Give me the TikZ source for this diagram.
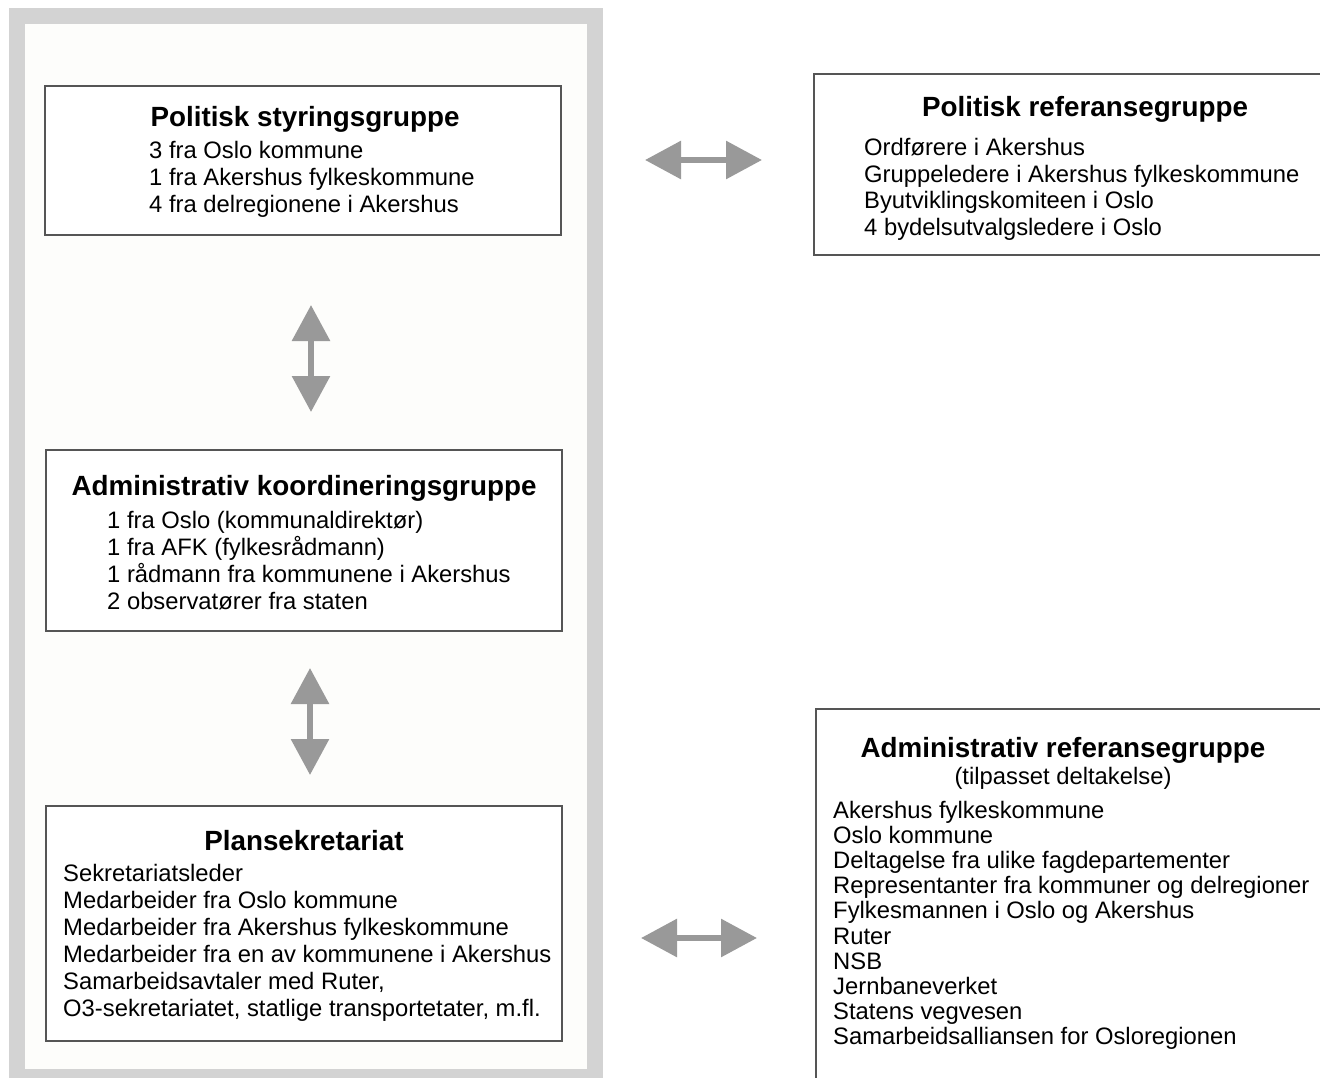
\documentclass[tikz,border=0pt]{standalone}
\usepackage{fontspec}
\setmainfont{Liberation Sans}
\usetikzlibrary{arrows.meta}
\definecolor{framegray}{HTML}{D3D3D3}
\definecolor{innerbg}{HTML}{FDFDFB}
\definecolor{boxgray}{HTML}{555555}
\definecolor{arrowgray}{HTML}{999999}
\begin{document}
\begin{tikzpicture}[x=1pt,y=-1pt,
  box/.style={draw=boxgray, line width=1.3pt, fill=white},
  ttl/.style={font=\fontsize{27.8}{30}\selectfont\bfseries, inner sep=0pt, anchor=base},
  sub/.style={font=\fontsize{23.8}{27}\selectfont, inner sep=0pt, anchor=base},
  txt/.style={font=\fontsize{23.8}{27}\selectfont, inner sep=0pt, anchor=base west},
  dbl/.style={draw=arrowgray, line width=6pt, {Triangle[length=36pt,width=37pt]}-{Triangle[length=36pt,width=37pt]}}]
\useasboundingbox (0,0) rectangle (1320,1078);
\clip (0,0) rectangle (1320,1078);
\fill[white] (0,0) rectangle (1320,1078);
% frame
\draw[framegray, line width=16pt, fill=innerbg] (17,16) rectangle (595,1077);
% boxes
\draw[box] (45,86) rectangle (561,235) coordinate (b1);
\draw[box] (46,450) rectangle (562,631);
\draw[box] (46,806) rectangle (562,1041);
\draw[box] (814,74) rectangle (1335,255);
\draw[box] (816,709) rectangle (1335,1095);
% box 1
\node[ttl] (t1) at (305,127) {Politisk styringsgruppe};
\foreach \t [count=\i] in {3 fra Oslo kommune, 1 fra Akershus fylkeskommune, 4 fra delregionene i Akershus}
  \node[txt] (a\i) at (149,158.5+27*\i-27) {\t};
% box 2
\node[ttl] (t2) at (304,495) {Administrativ koordineringsgruppe};
\foreach \t [count=\i] in {1 fra Oslo (kommunaldirektør), 1 fra AFK (fylkesrådmann), 1 rådmann fra kommunene i Akershus, 2 observatører fra staten}
  \node[txt] (b\i) at (107,528.5+27*\i-27) {\t};
% box 3
\node[ttl] (t3) at (304,850) {Plansekretariat};
\foreach \t [count=\i] in {Sekretariatsleder, Medarbeider fra Oslo kommune, Medarbeider fra Akershus fylkeskommune, Medarbeider fra en av kommunene i Akershus, {Samarbeidsavtaler med Ruter,}, {O3-sekretariatet, statlige transportetater, m.fl.}}
  \node[txt] (c\i) at (63,881.5+27*\i-27) {\t};
% box 4
\node[ttl] (t4) at (1085,117) {Politisk referansegruppe};
\foreach \t [count=\i] in {Ordførere i Akershus, Gruppeledere i Akershus fylkeskommune, Byutviklingskomiteen i Oslo, 4 bydelsutvalgsledere i Oslo}
  \node[txt] (d\i) at (864,155.5+26.7*\i-26.7) {\t};
% box 5
\node[ttl] (t5) at (1063,757) {Administrativ referansegruppe};
\node[sub] (s5) at (1063,784.5) {(tilpasset deltakelse)};
\foreach \t [count=\i] in {Akershus fylkeskommune, Oslo kommune, Deltagelse fra ulike fagdepartementer, Representanter fra kommuner og delregioner, Fylkesmannen i Oslo og Akershus, Ruter, NSB, Jernbaneverket, Statens vegvesen, Samarbeidsalliansen for Osloregionen}
  \node[txt] (e\i) at (833,818.5+25.1*\i-25.1) {\t};
% arrows
\coordinate (v1a) at (311,305); \coordinate (v1b) at (311,412);
\coordinate (v2a) at (310,668); \coordinate (v2b) at (310,775);
\coordinate (h1a) at (645,160); \coordinate (h1b) at (762,160);
\coordinate (h2a) at (641,938); \coordinate (h2b) at (757,938);
\draw[dbl] (v1a) -- (v1b);
\draw[dbl] (v2a) -- (v2b);
\draw[dbl] (h1a) -- (h1b);
\draw[dbl] (h2a) -- (h2b);
\end{tikzpicture}
\end{document}
